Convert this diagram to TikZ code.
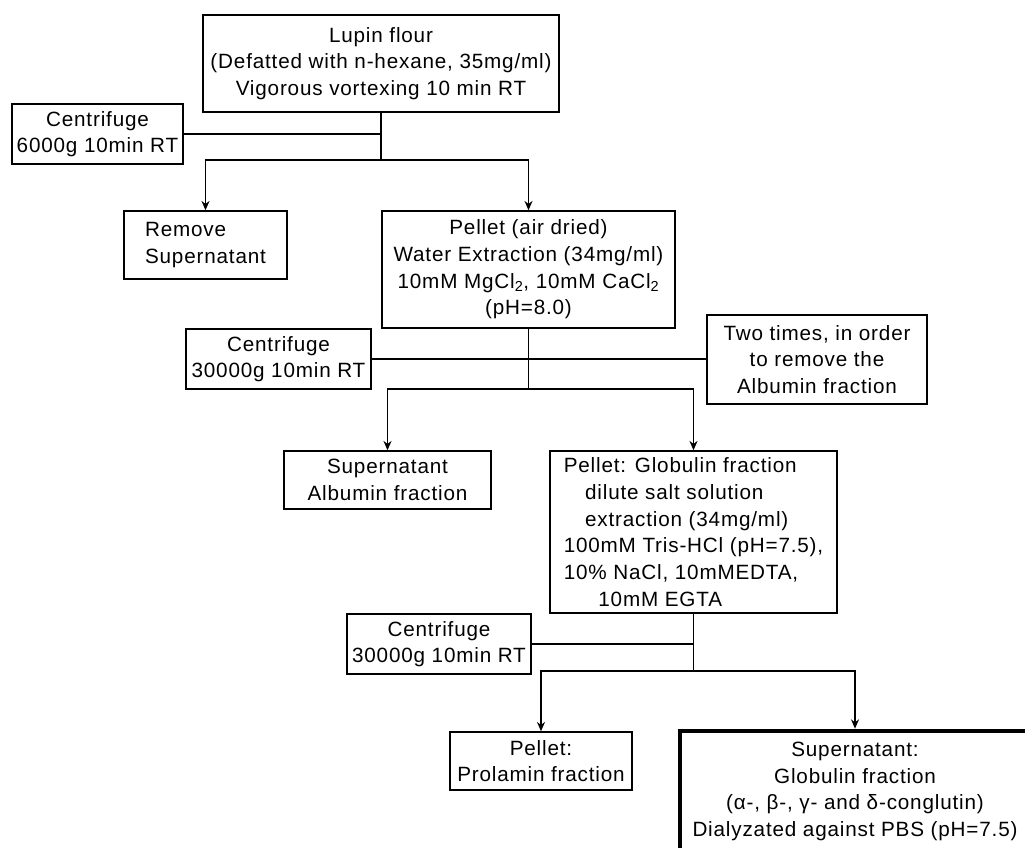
\documentclass[tikz,border=0pt]{standalone}
\usepackage{fontspec}
\setmainfont[LetterSpace=4]{Liberation Sans}
\usetikzlibrary{arrows.meta,calc}

\begin{document}
\begin{tikzpicture}[x=0.75pt,y=-0.75pt,
    caixa/.style={draw,line width=1.1pt,inner sep=2pt,align=center,
      font=\fontsize{15.5}{20}\selectfont},
    seta/.style={line width=1.1pt,-{Stealth[length=7pt,width=6pt]}},
    linha/.style={line width=1.1pt}]
    \useasboundingbox (0,0) rectangle (1025,847);

    % caixas
    \node[caixa,minimum width=267pt,minimum height=72.75pt] (lupin) at (381,63.5)
      {Lupin flour\\(Defatted with n-hexane, 35mg/ml)\\Vigorous vortexing 10 min RT};
    \node[caixa,minimum width=128.25pt,minimum height=45pt] (cent1) at (97.5,134)
      {Centrifuge\\6000g 10min RT};
    \node[caixa,align=left,minimum width=122.25pt,minimum height=51pt] (remove) at (205.5,245)
      {Remove\\Supernatant};
    \node[caixa,minimum width=219.75pt,minimum height=87.75pt] (pellet) at (528.5,269.5)
      {Pellet (air dried)\\Water Extraction (34mg/ml)\\
       10mM MgCl\textsubscript{2}, 10mM CaCl\textsubscript{2}\\(pH=8.0)};
    \node[caixa,minimum width=138.75pt,minimum height=45pt] (cent2) at (278.5,359)
      {Centrifuge\\30000g 10min RT};
    \node[caixa,minimum width=165pt,minimum height=66.75pt] (twice) at (817,359.5)
      {Two times, in order\\to remove the\\Albumin fraction};
    \node[caixa,minimum width=155.25pt,minimum height=43.5pt] (albumin) at (387.5,480)
      {Supernatant\\Albumin fraction};
    \node[caixa,align=left,minimum width=215.25pt,minimum height=121.5pt] (globulin) at (693.5,532)
      {Pellet: Globulin fraction\\\hspace*{16pt}dilute salt solution\\
       \hspace*{16pt}extraction (34mg/ml)\\100mM Tris-HCl (pH=7.5),\\
       10\% NaCl, 10mMEDTA,\\\hspace*{26pt}10mM EGTA};
    \node[caixa,minimum width=138pt,minimum height=45pt] (cent3) at (439,644)
      {Centrifuge\\30000g 10min RT};
    \node[caixa,minimum width=136.5pt,minimum height=43.5pt] (prolamin) at (541,761)
      {Pellet:\\Prolamin fraction};
    \node[caixa,line width=3.5pt,minimum width=262.5pt,minimum height=90.75pt] (final) at (855,791.5)
      {Supernatant:\\Globulin fraction\\(α-, β-, γ- and δ-conglutin)\\
       Dialyzated against PBS (pH=7.5)};

    % ligações
    \coordinate (j1) at (lupin.south |- 0,160);
    \coordinate (j2) at (pellet.south |- 0,389);
    \coordinate (j3) at (globulin.south |- 0,671);

    \draw[linha] (lupin.south) -- (j1);
    \draw[linha] (cent1.east) -- (cent1.east -| lupin.south);
    \draw[seta] (j1) -| (remove.north);
    \draw[seta] (j1) -| (pellet.north);

    \draw[linha] (pellet.south) -- (j2);
    \draw[linha] (cent2.east) -- (cent2.east -| twice.west);
    \draw[seta] (j2) -| (albumin.north);
    \draw[seta] (j2) -| (globulin.north);

    \draw[linha] (globulin.south) -- (j3);
    \draw[linha] (cent3.east) -- (cent3.east -| globulin.south);
    \draw[seta] (j3) -| (prolamin.north);
    \draw[seta] (j3) -| (final.north);
\end{tikzpicture}
\end{document}
